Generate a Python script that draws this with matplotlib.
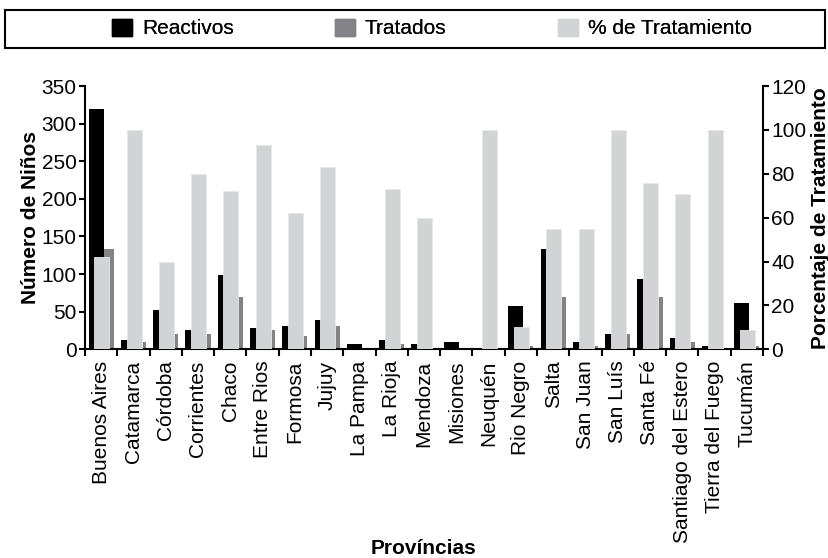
import matplotlib
matplotlib.use("Agg")
import matplotlib.pyplot as plt
import numpy as np
from matplotlib.patches import Rectangle, Patch

plt.rcParams['font.family'] = ['Liberation Sans', 'DejaVu Sans']

provinces = ["Buenos Aires", "Catamarca", "Córdoba", "Corrientes", "Chaco",
             "Entre Rios", "Formosa", "Jujuy", "La Pampa", "La Rioja", "Mendoza",
             "Misiones", "Neuquén", "Rio Negro", "Salta", "San Juan", "San Luís",
             "Santa Fé", "Santiago del Estero", "Tierra del Fuego", "Tucumán"]
reactivos = [320, 12, 52, 26, 99, 28, 31, 39, 7, 12, 7, 10, 2, 57, 133, 10, 20, 93, 15, 4, 62]
tratados = [133, 10, 20, 20, 70, 26, 18, 31, 0, 7, 2, 0, 2, 5, 70, 5, 20, 70, 10, 2, 5]
pct_trat = [42, 100, 40, 80, 72, 93, 62, 83, 0, 73, 60, 0, 100, 10, 55, 55, 100, 76, 71, 100, 9]
left_ticks = [0, 50, 100, 150, 200, 250, 300, 350]
right_ticks = [0, 20, 40, 60, 80, 100, 120]

C_BLACK = "#000000"
C_GRAY = "#838387"
C_LIGHT = "#d2d3d5"

W, H = 829, 558
fig = plt.figure(figsize=(W / 100, H / 100), dpi=100)
ax = fig.add_axes([85 / W, 1 - 349.3 / H, 678 / W, 263.3 / H])
ax2 = ax.twinx()

x = np.arange(len(provinces))
bw = 0.465
off = 0.155
ax.bar(x + off, tratados, width=bw, color=C_GRAY, zorder=2)
ax.bar(x - off, reactivos, width=bw, color=C_BLACK, zorder=3)
ax2.bar(x + 0.02, pct_trat, width=bw, color=C_LIGHT, edgecolor="#e6e7e8", linewidth=0.6, zorder=2)

ax.set_xlim(-0.5, len(provinces) - 0.5)
ax.set_ylim(0, 350)
ax2.set_ylim(0, 120)
ax.set_yticks(left_ticks)
ax2.set_yticks(right_ticks)

lw = 1.5
fs = 15
for a in (ax, ax2):
    for s in a.spines.values():
        s.set_linewidth(lw)
    a.spines['top'].set_visible(False)
ax.spines['right'].set_visible(False)
ax2.spines['left'].set_visible(False)
ax2.spines['bottom'].set_visible(False)

ax.tick_params(axis='y', which='major', length=4.5, width=lw, labelsize=fs, pad=1.5)
ax2.tick_params(axis='y', which='major', length=4.5, width=lw, labelsize=fs, pad=1.5)

ax.set_xticks(x)
ax.set_xticklabels(provinces, rotation=90, fontsize=fs)
ax.tick_params(axis='x', which='major', length=0, pad=8)
ax.set_xticks(np.arange(-0.5, len(provinces), 1.0), minor=True)
ax.tick_params(axis='x', which='minor', length=5, width=lw)

ax.set_ylabel("Número de Niños", fontsize=fs, fontweight='bold')
ax.yaxis.set_label_coords(-0.067, 0.5)
ax2.set_ylabel("Porcentaje de Tratamiento", fontsize=fs, fontweight='bold')
ax2.yaxis.set_label_coords(1.071, 0.5)
ax.set_xlabel("Províncias", fontsize=fs, fontweight='bold')
ax.xaxis.set_label_coords(0.5, -0.755)
ax.xaxis.label.set_va('center')

# legend frame
fig.add_artist(Rectangle((5 / W, 1 - 47.5 / H), 820 / W, 37.5 / H, transform=fig.transFigure,
                         fill=False, edgecolor='black', linewidth=1.5))
handles = [Patch(color=C_BLACK), Patch(color=C_GRAY), Patch(color=C_LIGHT)]
labels = ["Reactivos", "Tratados", "% de Tratamiento"]
anchors = [112, 335, 558]
for h, lab, ax0 in zip(handles, labels, anchors):
    leg = fig.legend([h], [lab], loc='center left', bbox_to_anchor=(ax0 / W, 1 - 28.5 / H),
                     frameon=False, fontsize=15, handlelength=0.95, handleheight=0.9,
                     handletextpad=0.48, borderpad=0, borderaxespad=0)
    fig.add_artist(leg)

fig.savefig("out.png", dpi=100)
